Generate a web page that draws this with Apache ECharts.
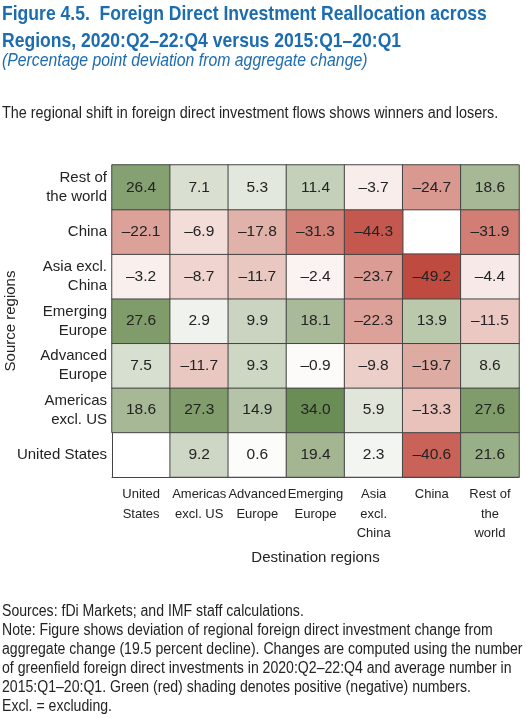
<!DOCTYPE html>
<html>
<head>
<meta charset="utf-8">
<script src="https://cdn.jsdelivr.net/npm/echarts@6/dist/echarts.min.js"></script>
<style>
  html, body { margin: 0; padding: 0; background: #fff; }
  #main { width: 526px; height: 718px; }
</style>
</head>
<body>
<div id="main"></div>
<script>
// destination regions (x axis, left to right)
var destinations = ['United\nStates', 'Americas\nexcl. US', 'Advanced\nEurope', 'Emerging\nEurope', 'Asia\nexcl.\nChina', 'China', 'Rest of\nthe\nworld'];
// source regions (y axis, bottom to top)
var sources = ['United States', 'Americas\nexcl. US', 'Advanced\nEurope', 'Emerging\nEurope', 'Asia excl.\nChina', 'China', 'Rest of\nthe world'];

// one row per source region, values per destination (null = not shown)
var fromUS = [null, 9.2, 0.6, 19.4, 2.3, -40.6, 21.6];
var fromAmericas = [18.6, 27.3, 14.9, 34.0, 5.9, -13.3, 27.6];
var fromAdvEurope = [7.5, -11.7, 9.3, -0.9, -9.8, -19.7, 8.6];
var fromEmgEurope = [27.6, 2.9, 9.9, 18.1, -22.3, 13.9, -11.5];
var fromAsia = [-3.2, -8.7, -11.7, -2.4, -23.7, -49.2, -4.4];
var fromChina = [-22.1, -6.9, -17.8, -31.3, -44.3, null, -31.9];
var fromRest = [26.4, 7.1, 5.3, 11.4, -3.7, -24.7, 18.6];

var rows = [fromUS, fromAmericas, fromAdvEurope, fromEmgEurope, fromAsia, fromChina, fromRest];

// shading, -50 ... +50 in steps of 10
var shades = ['#be483e', '#ca645a', '#d4847b', '#deaaa2', '#edcec8', '#ffffff',
  '#cad4c0', '#a0b48e', '#769460', '#588044', '#466e32'];

var cells = [];
rows.forEach(function (row, y) {
  row.forEach(function (v, x) {
    cells.push([x, y, v == null ? '-' : v]);
  });
});

var FONT = '"Liberation Sans", Arial, sans-serif';
var BLUE = '#1c6cb0';
var INK = '#232323';

var notes = [
  'Sources: fDi Markets; and IMF staff calculations.',
  'Note: Figure shows deviation of regional foreign direct investment change from',
  'aggregate change (19.5 percent decline). Changes are computed using the number',
  'of greenfield foreign direct investments in 2020:Q2\u201322:Q4 and average number in',
  '2015:Q1\u201320:Q1. Green (red) shading denotes positive (negative) numbers.',
  'Excl. = excluding.'
].join('\n');

var chart = echarts.init(document.getElementById('main'));

var option = {
  backgroundColor: '#fff',
  animation: false,
  graphic: [{
    type: 'text', x: 2, y: 1, scaleX: 0.836,
    style: {
      text: 'Figure 4.5.  Foreign Direct Investment Reallocation across\nRegions, 2020:Q2\u201322:Q4 versus 2015:Q1\u201320:Q1',
      font: 'bold 21px ' + FONT, fill: BLUE, lineHeight: 27, verticalAlign: 'top'
    }
  }, {
    type: 'text', x: 2, y: 52, scaleX: 0.878,
    style: {
      text: '(Percentage point deviation from aggregate change)',
      font: 'italic 18px ' + FONT, fill: BLUE, verticalAlign: 'top'
    }
  }, {
    type: 'text', x: 2, y: 106, scaleX: 0.9,
    style: {
      text: 'The regional shift in foreign direct investment flows shows winners and losers.',
      font: '16px ' + FONT, fill: INK, verticalAlign: 'top'
    }
  }, {
    type: 'text', x: 2, y: 602, scaleX: 0.88,
    style: {
      text: notes,
      font: '16px ' + FONT, fill: INK, lineHeight: 19, verticalAlign: 'top'
    }
  }],
  grid: { left: 112, right: 7, top: 165, bottom: 241, outerBoundsMode: 'none' },
  xAxis: {
    type: 'category',
    data: destinations,
    name: 'Destination regions',
    nameLocation: 'middle',
    nameGap: 73,
    nameMoveOverlap: false,
    nameTextStyle: { fontFamily: FONT, fontSize: 15, color: INK },
    axisLine: { show: true, lineStyle: { color: '#444', width: 1 } },
    axisTick: { show: false },
    axisLabel: { fontFamily: FONT, fontSize: 13, color: INK, lineHeight: 19.5, margin: 8, interval: 0, hideOverlap: false }
  },
  yAxis: {
    type: 'category',
    data: sources,
    name: 'Source regions',
    nameLocation: 'middle',
    nameGap: 94,
    nameMoveOverlap: false,
    nameTextStyle: { fontFamily: FONT, fontSize: 15, color: INK },
    axisLine: { show: true, lineStyle: { color: '#444', width: 1 } },
    axisTick: { show: false },
    axisLabel: { fontFamily: FONT, fontSize: 15, color: INK, lineHeight: 19, margin: 5, interval: 0, align: 'right' }
  },
  visualMap: {
    show: false,
    type: 'continuous',
    min: -50,
    max: 50,
    dimension: 2,
    inRange: { color: shades }
  },
  series: [{
    type: 'heatmap',
    data: cells,
    itemStyle: { borderColor: '#444', borderWidth: 1 },
    label: {
      show: true,
      fontFamily: FONT,
      fontSize: 15.5,
      color: INK,
      formatter: function (p) {
        var v = p.value[2];
        return v < 0 ? '\u2013' + Math.abs(v).toFixed(1) : v.toFixed(1);
      }
    },
    emphasis: { disabled: true }
  }]
};

chart.setOption(option);
</script>
</body>
</html>
